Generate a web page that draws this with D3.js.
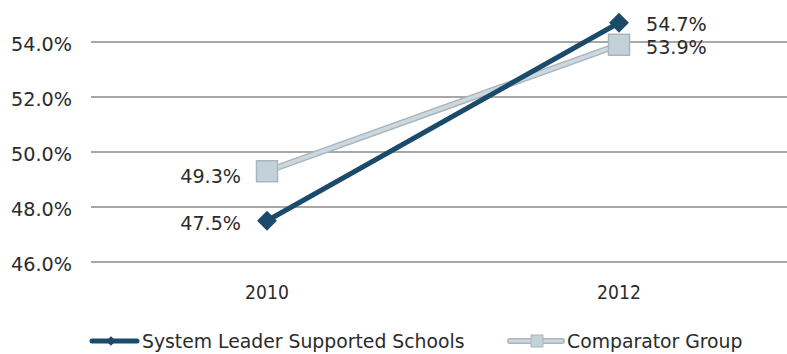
<!DOCTYPE html>
<html><head><meta charset="utf-8">
<script src="https://cdn.jsdelivr.net/npm/d3@7"></script>
<style>body{margin:0;background:#fff}text{font-family:"DejaVu Sans",sans-serif;fill:#2b2b2b}</style>
</head><body><svg id="c" width="787" height="354"></svg>
<script>
const categories = ["2010", "2012"];
const seriesNames = ["System Leader Supported Schools", "Comparator Group"];
const leaderValues = [47.5, 54.7];
const comparatorValues = [49.3, 53.9];
const yTicks = [46, 48, 50, 52, 54];

const svg = d3.select("#c");
const x = d3.scalePoint().domain(categories).range([267, 619]);
const y = d3.scaleLinear().domain([46, 54]).range([262, 42]);
const fs = 20;
const DARK = "#1b4a6b";

function squash(sel, f) {
  sel.each(function () {
    const w = this.getComputedTextLength();
    d3.select(this).attr("textLength", w * f).attr("lengthAdjust", "spacingAndGlyphs");
  });
  return sel;
}

// gridlines
svg.append("g").selectAll("line").data(yTicks).join("line")
  .attr("x1", 91).attr("x2", 787).attr("y1", d => y(d)).attr("y2", d => y(d))
  .attr("stroke", "#8a8a8a").attr("stroke-width", 1.5);

// y labels
squash(svg.append("g").selectAll("text").data(yTicks).join("text")
  .attr("x", 72).attr("y", d => y(d) + 8.5).attr("text-anchor", "end")
  .attr("font-size", fs).text(d => d.toFixed(1) + "%"), 0.96);

// x labels
squash(svg.append("g").selectAll("text").data(categories).join("text")
  .attr("x", d => x(d)).attr("y", 299).attr("text-anchor", "middle")
  .attr("font-size", fs).text(d => d), 0.86);

const line = d3.line().x((d, i) => x(categories[i])).y(d => y(d));

// comparator
svg.append("path").datum(comparatorValues).attr("d", line).attr("fill", "none")
  .attr("stroke", "#aab5bc").attr("stroke-width", 6.5);
svg.append("path").datum(comparatorValues).attr("d", line).attr("fill", "none")
  .attr("stroke", "#cbd8e0").attr("stroke-width", 3.5);
svg.append("g").selectAll("rect").data(comparatorValues).join("rect")
  .attr("x", (d, i) => x(categories[i]) - 10.5).attr("y", d => y(d) - 10.5)
  .attr("width", 21).attr("height", 21).attr("fill", "#c3d1d9").attr("stroke", "#a9b6be").attr("stroke-width", 1.5);

// leader
svg.append("path").datum(leaderValues).attr("d", line).attr("fill", "none")
  .attr("stroke", DARK).attr("stroke-width", 5);
const diamond = d3.symbol().type(d3.symbolDiamond2).size(250);
svg.append("g").selectAll("path").data(leaderValues).join("path")
  .attr("d", diamond).attr("transform", (d, i) => `translate(${x(categories[i])},${y(d)})`)
  .attr("fill", DARK);

// data labels
const lab = [
  {v: comparatorValues[0], xx: 241, dy: 12, anchor: "end"},
  {v: leaderValues[0], xx: 241, dy: 9, anchor: "end"},
  {v: leaderValues[1], xx: 646, dy: 8.5, anchor: "start"},
  {v: comparatorValues[1], xx: 646, dy: 9, anchor: "start"}
];
squash(svg.append("g").selectAll("text").data(lab).join("text")
  .attr("x", d => d.xx).attr("y", d => y(d.v) + d.dy).attr("text-anchor", d => d.anchor)
  .attr("font-size", 19.5).text(d => d.v.toFixed(1) + "%"), 0.98);

// legend
const ly = 341;
svg.append("line").attr("x1", 92).attr("x2", 137).attr("y1", ly).attr("y2", ly).attr("stroke", DARK).attr("stroke-width", 5).attr("stroke-linecap", "round");
svg.append("path").attr("d", d3.symbol().type(d3.symbolDiamond2).size(60)).attr("transform", `translate(111,${ly})`).attr("fill", DARK);
squash(svg.append("text").attr("x", 142).attr("y", 348).attr("font-size", fs).text(seriesNames[0]), 0.94);
svg.append("line").attr("x1", 510).attr("x2", 562).attr("y1", ly).attr("y2", ly).attr("stroke", "#aab5bc").attr("stroke-width", 6).attr("stroke-linecap", "round");
svg.append("line").attr("x1", 510).attr("x2", 562).attr("y1", ly).attr("y2", ly).attr("stroke", "#cbd8e0").attr("stroke-width", 3).attr("stroke-linecap", "round");
svg.append("rect").attr("x", 531).attr("y", ly - 6).attr("width", 12).attr("height", 12).attr("fill", "#c3d1d9").attr("stroke", "#a9b6be");
squash(svg.append("text").attr("x", 567).attr("y", 348).attr("font-size", fs).text(seriesNames[1]), 0.94);
</script></body></html>
